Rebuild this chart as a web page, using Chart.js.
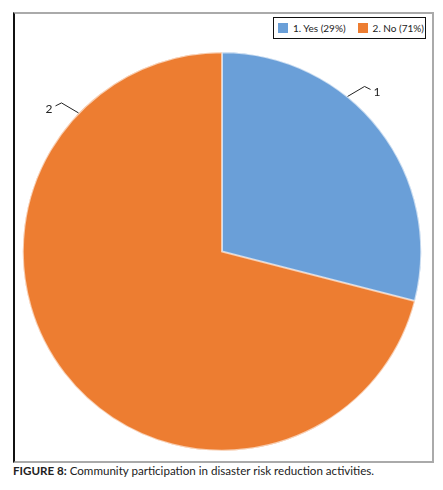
<!DOCTYPE html>
<html>
<head>
<meta charset="utf-8">
<script src="https://cdn.jsdelivr.net/npm/chart.js@4/dist/chart.umd.min.js"></script>
<style>
  body { margin: 0; background: #fff; width: 443px; height: 490px; position: relative; font-family: Lato, "Open Sans", sans-serif; }
  #frame { position: absolute; left: 13px; top: 12px; width: 417px; height: 447px;
           border-left: 2px solid #111; border-top: 2px solid #aaa; border-right: 2px solid #aaa; border-bottom: 2px solid #aaa; }
  #wrap { position: absolute; left: 15px; top: 14px; width: 416px; height: 446px; }
  #legend { position: absolute; left: 273px; top: 17px; width: 151px; height: 20px; border: 1.5px solid #111;
            background: #fff; font-size: 10px; color: #222; display: flex; align-items: center; white-space: nowrap; }
  #legend span.item { display: flex; align-items: center; white-space: nowrap; }
  #legend i { display: inline-block; width: 10px; height: 10px; margin: 0 5px 0 0; flex: none; }
  #caption { position: absolute; left: 13px; top: 464px; font-size: 11.6px; color: #222; white-space: nowrap; }
</style>
</head>
<body>
<div id="frame"></div>
<div id="wrap"><canvas id="pieChart"></canvas></div>
<div id="legend"></div>
<div id="caption"><b>FIGURE 8:</b> Community participation in disaster risk reduction activities.</div>
<script>
// data
const categories = ['1. Yes', '2. No'];
const shortLabels = ['1', '2'];
const percents = [29, 71];
const colors = ['#6A9FD8', '#ED7D31'];

// hand-drawn legend with the border box like the original
const legendEl = document.getElementById('legend');
categories.forEach(function(cat, i) {
    const item = document.createElement('span');
    item.className = 'item';
    item.style.marginLeft = i === 0 ? '4px' : '12px';
    item.innerHTML = '<i style="background:' + colors[i] + '"></i>' + cat + ' (' + percents[i] + '%)';
    legendEl.appendChild(item);
});

// leader lines with the little number at the end
const leaderLabels = {
    id: 'leaderLabels',
    afterDatasetsDraw(chart, args, opts) {
        const ctx = chart.ctx;
        const arcs = chart.getDatasetMeta(0).data;
        ctx.save();
        ctx.strokeStyle = '#222';
        ctx.lineWidth = 1;
        ctx.fillStyle = '#222';
        ctx.font = '12px Lato, "Open Sans", sans-serif';
        ctx.textBaseline = 'middle';
        arcs.forEach(function(arc, i) {
            const a = opts.angles[i] * Math.PI / 180;
            const r = arc.outerRadius;
            const x0 = arc.x + Math.cos(a) * r;
            const y0 = arc.y + Math.sin(a) * r;
            const dir = Math.cos(a) >= 0 ? 1 : -1;
            const x1 = x0 + dir * 17, y1 = y0 - 10;
            const x2 = x1 + dir * 6, y2 = y1 + 3;
            ctx.beginPath();
            ctx.moveTo(x0, y0);
            ctx.lineTo(x1, y1);
            ctx.lineTo(x2, y2);
            ctx.stroke();
            ctx.textAlign = dir > 0 ? 'left' : 'right';
            ctx.fillText(shortLabels[i], x2 + dir * 3, y2 + 3);
        });
        ctx.restore();
    }
};

document.addEventListener('DOMContentLoaded', function() {
    const ctx = document.getElementById('pieChart').getContext('2d');
    new Chart(ctx, {
        type: 'pie',
        data: {
            labels: categories,
            datasets: [{
                data: percents,
                backgroundColor: colors,
                borderColor: 'rgba(255,255,255,0.6)',
                borderWidth: 1,
                borderAlign: 'inner',
                hoverOffset: 0,
                offset: 0
            }]
        },
        options: {
            responsive: true,
            maintainAspectRatio: false,
            animation: false,
            layout: { padding: { left: 7.5, right: 9.5, top: 38, bottom: 9 } },
            plugins: {
                legend: { display: false },
                tooltip: { enabled: false },
                leaderLabels: { angles: [-51, -136] }
            }
        },
        plugins: [leaderLabels]
    });
});
</script>
</body>
</html>
